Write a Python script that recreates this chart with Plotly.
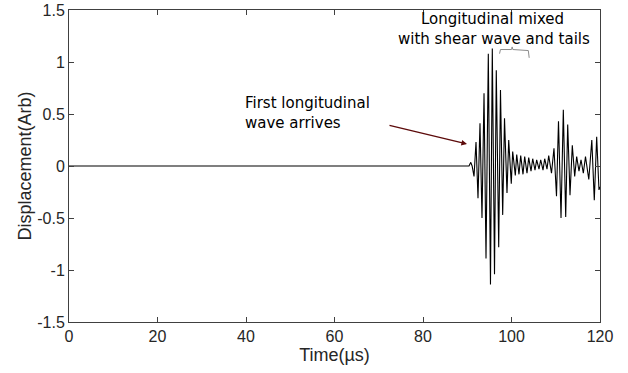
import plotly.graph_objects as go

time_us = [0.0, 90.40, 90.80, 91.10, 91.53, 91.98, 92.43, 92.88, 93.33, 93.79, 94.24, 94.76, 95.25,
           95.66, 96.16, 96.56, 97.11, 97.51, 98.01, 98.42, 98.98, 99.37, 99.95, 100.27,
           100.86, 101.18, 101.69, 102.08, 102.60, 102.98, 103.50, 103.89, 104.41, 104.79,
           105.31, 105.69, 106.21, 106.60, 107.12, 107.50, 108.02, 108.41, 109.04, 109.60,
           110.17, 110.62, 111.19, 111.71, 112.25, 112.70, 113.22, 113.74, 114.28, 114.73,
           115.25, 115.71, 116.23, 116.72, 117.47, 118.15, 118.71, 119.25, 119.77, 120.0]
displacement = [0.0, 0.0, 0.035, 0.0, -0.10, 0.23, -0.31, 0.41, -0.50, 0.70, -0.89, 1.08, -1.14,
                1.13, -1.04, 0.92, -0.78, 0.73, -0.47, 0.46, -0.26, 0.25, -0.17, 0.14,
                -0.09, 0.11, -0.08, 0.10, -0.08, 0.09, -0.07, 0.08, -0.05, 0.07,
                -0.04, 0.06, -0.03, 0.06, -0.04, 0.07, -0.03, 0.10, -0.07, 0.17,
                -0.29, 0.43, -0.50, 0.54, -0.49, 0.40, -0.28, 0.20, -0.10, 0.09,
                -0.05, 0.06, -0.07, 0.09, -0.13, 0.25, -0.33, 0.28, -0.23, -0.20]

x_ticks = [0, 20, 40, 60, 80, 100, 120]
y_ticks = [-1.5, -1, -0.5, 0, 0.5, 1, 1.5]
y_tick_labels = ["-1.5", "-1", "-0.5", "0", "0.5", "1", "1.5"]

x_label = "Time(\u00b5s)"
y_label = "Displacement(Arb)"
note_first = ["First longitudinal", "wave arrives"]
note_mixed = ["Longitudinal mixed", "with shear wave and tails"]

AX = "#404040"
TXT = "#262626"
NOTE_FONT = dict(family="DejaVu Sans", size=15, color="#000000")

fig = go.Figure()
fig.add_trace(go.Scatter(x=time_us, y=displacement, mode="lines",
                         line=dict(color="#000000", width=1.1), hoverinfo="skip",
                         showlegend=False))

axis_common = dict(showgrid=False, zeroline=False, showline=True, linecolor=AX, linewidth=1,
                   mirror="ticks", ticks="inside", ticklen=5, tickcolor=AX, tickwidth=1,
                   automargin=False,
                   tickfont=dict(family="Liberation Sans", size=16, color=TXT))
fig.update_xaxes(range=[0, 120], tickvals=x_ticks, ticktext=[str(v) for v in x_ticks],
                 title=dict(text=x_label, font=dict(family="Liberation Sans", size=18, color=TXT),
                            standoff=2), **axis_common)
fig.update_yaxes(range=[-1.5, 1.5], tickvals=y_ticks, ticktext=y_tick_labels,
                 title=dict(text=y_label, font=dict(family="Liberation Sans", size=18, color=TXT),
                            standoff=0), **axis_common)

# annotation text
fig.add_annotation(x=39.25, y=0.606, xref="x", yref="y", text=note_first[0], showarrow=False,
                   xanchor="left", yanchor="middle", font=NOTE_FONT)
fig.add_annotation(x=39.25, y=0.413, xref="x", yref="y", text=note_first[1], showarrow=False,
                   xanchor="left", yanchor="middle", font=NOTE_FONT)
fig.add_annotation(x=112.3, y=1.415, xref="x", yref="y", text=note_mixed[0], showarrow=False,
                   xanchor="right", yanchor="middle", font=NOTE_FONT)
fig.add_annotation(x=118.2, y=1.223, xref="x", yref="y", text=note_mixed[1], showarrow=False,
                   xanchor="right", yanchor="middle", font=NOTE_FONT)

# arrow
fig.add_annotation(x=89.94, y=0.2115, ax=72.09, ay=0.394, xref="x", yref="y", axref="x", ayref="y",
                   text="", showarrow=True, arrowhead=2, arrowsize=0.8, arrowwidth=1.4,
                   arrowcolor="#5c0a0a")

# bracket
fig.add_shape(type="path", xref="x", yref="y",
              path="M 97.3,1.08 L 97.5,1.12 L 100.0,1.12 L 100.15,1.145 L 100.3,1.12 L 103.8,1.11 L 104.0,1.04",
              line=dict(color="#8c8c8c", width=1))

fig.update_layout(width=628, height=373, margin=dict(l=69, r=28, t=10, b=51),
                  plot_bgcolor="white", paper_bgcolor="white")

fig.write_html("out.html")
